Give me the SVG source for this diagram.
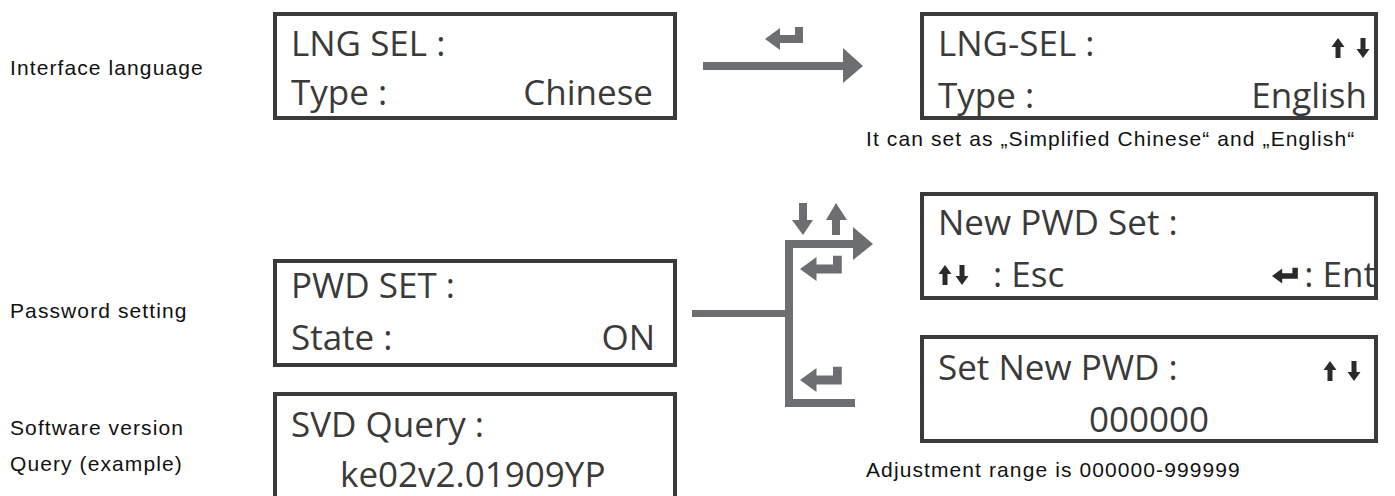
<svg xmlns="http://www.w3.org/2000/svg" width="1395" height="496" viewBox="0 0 1395 496">
<style>
.box{fill:#fff;stroke:#3a3a3a;stroke-width:4}
.lcd{font-family:"Open Sans","Noto Sans",sans-serif;font-size:35px;fill:#3a3a3a}
.lbl{font-family:"Liberation Sans",sans-serif;font-size:21px;letter-spacing:1.1px;fill:#111}
.con{fill:#6d6e71}
.ico{fill:#2a2a2a}
</style>
<defs>
<polygon id="ret" points="0,0 15,-11 15,-4 30,-4 30,-12 38,-12 38,4 15,4 15,11"/>
<polygon id="up" points="0,-10 6.5,-1 2.5,-1 2.5,10 -2.5,10 -2.5,-1 -6.5,-1"/>
<polygon id="down" points="0,10 6.5,1 2.5,1 2.5,-10 -2.5,-10 -2.5,1 -6.5,1"/>
</defs>
<rect width="1395" height="496" fill="#fff"/>
<g id="labels">
<text class="lbl" x="10" y="75">Interface language</text>
<text class="lbl" x="10" y="318">Password setting</text>
<text class="lbl" x="10" y="435">Software version</text>
<text class="lbl" x="10" y="471">Query (example)</text>
<text class="lbl" x="866" y="146">It can set as „Simplified Chinese“ and „English“</text>
<text class="lbl" x="866" y="477">Adjustment range is 000000-999999</text>
</g>
<g id="lng-sel">
<rect class="box" x="275" y="14" width="400" height="104"/>
<text class="lcd" x="291" y="56">LNG SEL :</text>
<text class="lcd" x="291" y="105">Type :</text>
<text class="lcd" x="653" y="105" text-anchor="end">Chinese</text>
</g>
<g id="lng-sel-edit">
<rect class="box" x="922" y="14" width="454" height="104"/>
<text class="lcd" x="938" y="56">LNG-SEL :</text>
<text class="lcd" x="938" y="108">Type :</text>
<text class="lcd" x="1367" y="108" text-anchor="end">English</text>
<use href="#up" class="ico" x="1338" y="48"/>
<use href="#down" class="ico" x="1363" y="48"/>
</g>
<g id="pwd-set">
<rect class="box" x="275" y="261" width="400" height="104"/>
<text class="lcd" x="291" y="298">PWD SET :</text>
<text class="lcd" x="291" y="350">State :</text>
<text class="lcd" x="655" y="350" text-anchor="end">ON</text>
</g>
<g id="svd-query">
<rect class="box" x="275" y="394" width="400" height="120"/>
<text class="lcd" x="291" y="437">SVD Query :</text>
<text class="lcd" x="340" y="487">ke02v2.01909YP</text>
</g>
<g id="new-pwd-set">
<rect class="box" x="922" y="194" width="454" height="104"/>
<text class="lcd" x="938" y="235">New PWD Set :</text>
<use href="#up" class="ico" x="945" y="275"/>
<use href="#down" class="ico" x="962" y="275"/>
<text class="lcd" x="993" y="287">: Esc</text>
<use href="#ret" class="ico" transform="translate(1272,276) scale(0.68)"/>
<text class="lcd" x="1376" y="287" text-anchor="end">: Ent</text>
</g>
<g id="set-new-pwd">
<rect class="box" x="922" y="337" width="454" height="104"/>
<text class="lcd" x="938" y="380">Set New PWD :</text>
<text class="lcd" x="1149" y="432" text-anchor="middle">000000</text>
<use href="#up" class="ico" x="1330" y="371"/>
<use href="#down" class="ico" x="1354" y="371"/>
</g>
<g id="connectors">
<polygon class="con" points="703,62 843,62 843,48 863,66 843,83 843,70 703,70"/>
<use href="#ret" class="con" x="765" y="39"/>
<rect class="con" x="692" y="310" width="98" height="7"/>
<rect class="con" x="785" y="240" width="8" height="167"/>
<polygon class="con" points="785,240 853,240 853,227 873,244 853,260 853,248 785,248"/>
<rect class="con" x="785" y="399" width="70" height="8"/>
<polygon class="con" points="799,203 807,203 807,220 813,220 803,235 792,220 799,220"/>
<polygon class="con" points="832,235 840,235 840,220 847,220 836,203 826,220 832,220"/>
<use href="#ret" class="con" transform="translate(800,269) scale(1.1)"/>
<use href="#ret" class="con" transform="translate(800,380) scale(1.1)"/>
</g>
</svg>
